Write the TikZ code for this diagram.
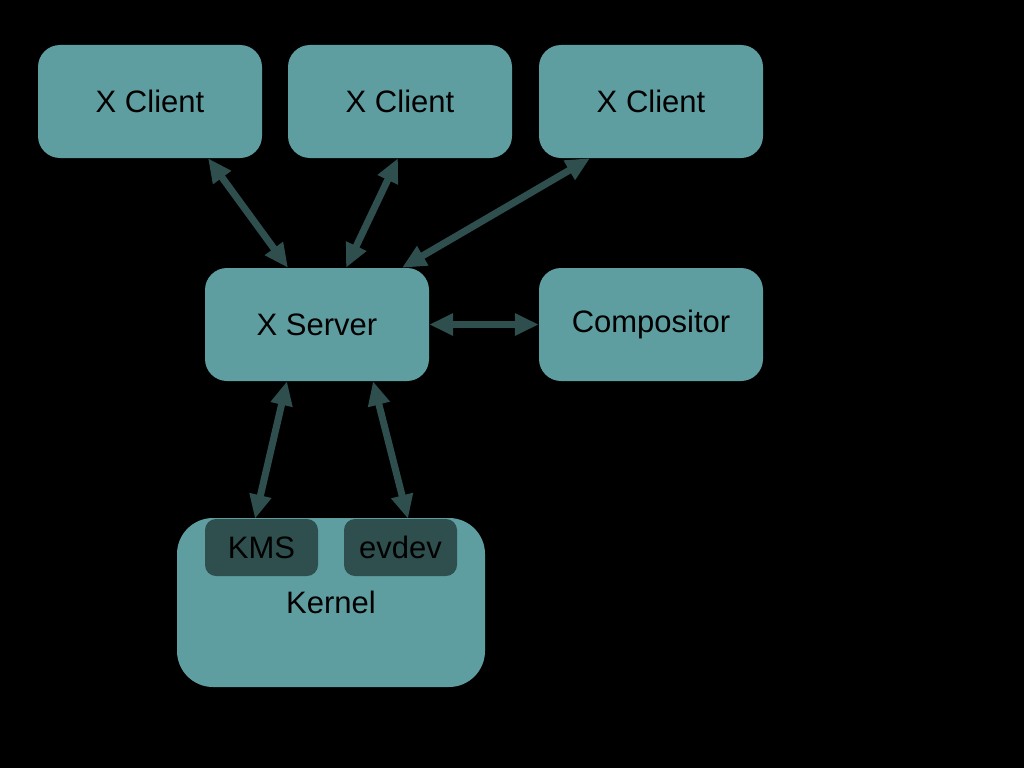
\documentclass[tikz,border=0pt]{standalone}
\usepackage{fontspec}
\setmainfont{Liberation Sans}
\usepackage{xcolor}
\usepackage{tikz}
\usetikzlibrary{arrows.meta}
\definecolor{boxteal}{HTML}{5F9EA0}
\definecolor{darkslate}{HTML}{2F4F4F}

\begin{document}
\begin{tikzpicture}[x=1pt,y=-1pt,
  box/.style={fill=boxteal,rounded corners=22pt,minimum width=224pt,minimum height=113pt,inner sep=0pt,font=\fontsize{31}{37}\selectfont},
  subbox/.style={fill=darkslate,rounded corners=11pt,minimum width=113pt,minimum height=57pt,inner sep=0pt,font=\fontsize{31}{37}\selectfont},
  link/.style={darkslate,line width=7pt,{Triangle[length=24pt,width=21pt]}-{Triangle[length=24pt,width=21pt]}}]
\fill[black] (0,0) rectangle (1024,768);
\useasboundingbox (0,0) rectangle (1024,768);
% clients
\node[box] (client1) at (150,101.5) {X Client};
\node[box] (client2) at (400,101.5) {X Client};
\node[box] (client3) at (651,101.5) {X Client};
% server and compositor
\node[box] (server) at (317,324.5) {X Server};
\node[box] (comp) at (651,324.5) {Compositor};
% kernel
\node[box,minimum width=308pt,minimum height=169pt,rounded corners=36pt,text depth=-4pt] (kernel) at (331,602.5) {Kernel};
\node[subbox] (kms) at (261.5,547.5) {KMS};
\node[subbox] (evdev) at (400.5,547.5) {evdev};
% links
\draw[link] ([xshift=58pt]client1.south) -- ([xshift=-29pt]server.north);
\draw[link] ([xshift=-2pt]client2.south) -- ([xshift=29pt]server.north);
\draw[link] ([xshift=-61pt]client3.south) -- ([xshift=85pt]server.north);
\draw[link] (server.east) -- (comp.west);
\draw[link] ([xshift=-30pt]server.south) -- ([xshift=-6.5pt]kms.north);
\draw[link] ([xshift=56pt]server.south) -- ([xshift=7.5pt]evdev.north);
\end{tikzpicture}
\end{document}
